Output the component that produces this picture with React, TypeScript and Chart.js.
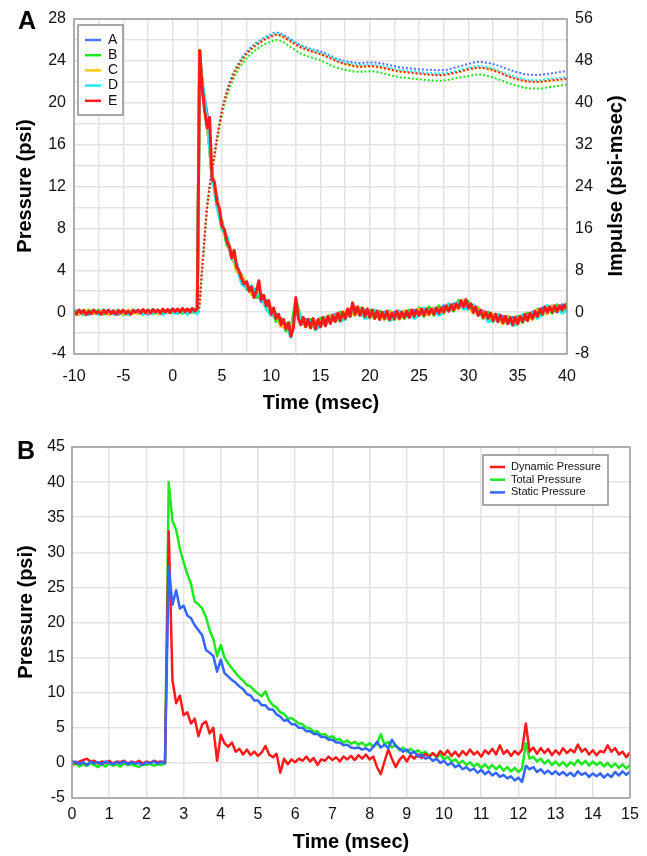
import React, { useEffect, useRef } from 'react';
import { Chart, registerables } from 'chart.js';
Chart.register(...registerables);

const FONT = "'Liberation Sans', Arial, Helvetica, sans-serif";

// ---------------- Chart A data ----------------
// Fine time grid for trace E: start and step (msec)
const tStartA = -10;
const tStepA = 0.25;

// Pressure (psi), trace E, sampled every 0.25 msec from -10 to 40
const pressureE = [
  0.1, -0.2, 0.2, -0.1, 0.15, -0.25, 0.1, -0.15, 0.2, -0.1,
  0.05, -0.2, 0.15, -0.1, 0.2, -0.15, 0.1, -0.2, 0.15, -0.05,
  0.2, -0.15, 0.1, -0.2, 0.15, 0.0, 0.2, -0.1, 0.25, -0.05,
  0.2, -0.1, 0.25, 0.0, 0.2, -0.1, 0.3, 0.0, 0.25, -0.05,
  0.3, 0.05, 0.3, 0.0, 0.35, 0.05, 0.3, 0.0, 0.35, 0.1,
  0.3, 25.0, 21.5, 19.2, 17.6, 18.6, 12.8, 12.4, 10.5, 9.9,
  8.2, 7.9, 6.8, 6.3, 5.2, 5.9, 4.3, 3.9, 3.2, 2.7,
  2.9, 2.0, 2.4, 1.4, 2.0, 3.0, 1.2, 1.6, 0.6, 1.1,
  -0.2, 0.4, -0.6, -0.2, -1.2, -0.7, -1.6, -1.0, -2.3, -1.5,
  1.4, -0.6, -1.2, -0.5, -1.4, -0.7, -1.5, -0.6, -1.6, -0.7,
  -1.4, -0.5, -1.3, -0.4, -1.1, -0.3, -0.9, -0.1, -0.8, 0.0,
  -0.6, 0.3, -0.4, 0.9, -0.2, 0.5, -0.3, 0.4, -0.4, 0.3,
  -0.5, 0.2, -0.6, 0.1, -0.7, 0.0, -0.6, 0.1, -0.7, -0.1,
  -0.6, 0.1, -0.6, 0.0, -0.5, 0.1, -0.5, 0.2, -0.4, 0.2,
  -0.3, 0.3, -0.3, 0.3, -0.2, 0.3, -0.2, 0.4, -0.1, 0.4,
  0.0, 0.6, 0.1, 0.7, 0.2, 0.8, 0.4, 1.1, 0.5, 1.2,
  0.4, 0.8, 0.0, 0.5, -0.3, 0.2, -0.5, 0.0, -0.6, -0.1,
  -0.8, -0.2, -0.9, -0.3, -1.0, -0.4, -1.1, -0.5, -1.2, -0.5,
  -1.1, -0.4, -0.9, -0.2, -0.8, -0.1, -0.6, 0.1, -0.4, 0.3,
  -0.2, 0.5, 0.0, 0.5, 0.0, 0.6, 0.1, 0.6, 0.2, 0.7,
  0.3,
];

// Traces A-D: every 0.5 msec from -10 to 40, plus the shock sample at 2.75
const pressureA = [
  0.2, -0.1, 0.15, -0.2, 0.1, -0.15, 0.2, -0.1, 0.15, -0.2,
  0.05, -0.1, 0.2, -0.15, 0.1, -0.2, 0.25, -0.1, 0.15, -0.05,
  0.3, 0.0, 0.25, -0.05, 0.3, 0.1,
  24.6, 21.9, 18.9, 12.7, 11.0, 8.0, 7.2, 5.1, 4.6, 2.9,
  2.9, 1.8, 2.2, 1.0, 1.1, -0.3, -0.2, -1.3, -1.1, -2.2,
  0.5, -1.2, -0.7, -1.4, -0.9, -1.3, -0.6, -1.0, -0.2, -0.7,
  0.0, -0.4, 0.4, -0.3, 0.2, -0.5, 0.1, -0.6, 0.0, -0.6,
  0.0, -0.6, 0.1, -0.5, 0.2, -0.3, 0.3, -0.2, 0.4, -0.1,
  0.6, 0.1, 0.8, 0.4, 1.1, 0.3, 0.6, -0.3, 0.1, -0.7,
  -0.2, -0.9, -0.4, -1.1, -0.5, -1.1, -0.3, -0.8, 0.0, -0.4,
  0.4, -0.1, 0.6, 0.0, 0.7, 0.2,
];
const pressureB = [
  -0.2, 0.1, -0.25, 0.15, -0.1, 0.2, -0.2, 0.05, -0.15, 0.2,
  -0.25, 0.1, -0.1, 0.15, -0.2, 0.1, -0.15, 0.2, -0.1, 0.2,
  -0.05, 0.25, -0.1, 0.3, 0.0, 0.25,
  25.0, 21.1, 18.0, 13.4, 10.2, 8.7, 6.4, 5.8, 3.9, 3.6,
  2.2, 2.5, 1.4, 1.7, 0.4, 0.4, -0.9, -0.6, -1.8, -1.5,
  1.1, -0.5, -1.4, -0.7, -1.6, -0.6, -1.3, -0.3, -0.9, 0.0,
  -0.7, 0.3, -0.3, 0.4, -0.5, 0.2, -0.6, 0.1, -0.7, 0.1,
  -0.7, 0.1, -0.6, 0.2, -0.5, 0.4, -0.4, 0.5, -0.3, 0.6,
  -0.1, 0.8, 0.1, 1.1, 0.4, 1.0, -0.1, 0.4, -0.6, 0.0,
  -0.9, -0.2, -1.1, -0.4, -1.2, -0.4, -1.0, -0.1, -0.7, 0.3,
  -0.3, 0.6, -0.1, 0.7, 0.0, 0.9,
];
const pressureC = [
  0.1, -0.25, 0.05, 0.2, -0.15, 0.0, 0.15, -0.25, 0.1, 0.05,
  -0.2, 0.2, 0.0, -0.15, 0.2, -0.05, 0.1, -0.2, 0.25, 0.0,
  0.15, -0.1, 0.3, 0.05, 0.2, 0.0,
  24.9, 21.6, 18.0, 13.3, 10.7, 7.9, 7.1, 5.5, 3.9, 3.5,
  2.7, 1.7, 2.1, 1.4, 0.4, 0.3, -0.4, -1.4, -1.1, -1.8,
  0.4, -0.6, -0.9, -1.5, -0.9, -0.9, -1.3, -0.4, -0.4, -0.8,
  0.0, -0.1, -0.3, 0.3, 0.0, -0.6, 0.1, -0.3, -0.7, 0.0,
  -0.3, -0.7, 0.1, -0.2, -0.5, 0.3, 0.0, -0.3, 0.4, 0.2,
  -0.1, 0.7, 0.5, 0.3, 1.1, 0.6, -0.1, 0.3, -0.2, -0.8,
  -0.2, -0.6, -1.1, -0.5, -0.8, -1.2, -0.3, -0.5, -0.7, 0.2,
  0.1, -0.2, 0.6, 0.3, 0.0, 0.8,
];
const pressureD = [
  -0.1, 0.2, -0.2, 0.0, 0.2, -0.25, 0.05, 0.15, -0.2, 0.1,
  0.0, -0.25, 0.15, 0.05, -0.2, 0.2, -0.1, 0.05, -0.25, 0.15,
  0.0, -0.15, 0.1, -0.2, 0.15, -0.15,
  24.5, 21.9, 18.4, 13.2, 10.1, 8.0, 7.2, 5.4, 4.5, 2.7,
  2.3, 2.5, 1.8, 1.5, 0.3, -0.3, -0.1, -1.0, -1.2, -2.4,
  0.5, -0.5, -1.0, -0.9, -1.7, -1.3, -0.5, -0.7, -0.3, -0.9,
  -0.6, 0.3, 0.1, 0.2, -0.6, -0.5, 0.2, -0.3, -0.1, -0.8,
  -0.6, 0.1, -0.2, 0.0, -0.6, -0.3, 0.4, 0.1, 0.3, -0.3,
  0.0, 0.8, 0.5, 0.9, 0.3, 0.3, 0.7, 0.0, 0.0, -0.9,
  -0.8, -0.2, -0.7, -0.6, -1.3, -1.1, -0.2, -0.5, -0.1, -0.6,
  -0.2, 0.6, 0.3, 0.5, -0.1, 0.2,
];

// Impulse (psi-msec)
const impulseTime = [-10, 2.6, 3, 3.5, 4, 4.5, 5, 5.5, 6, 7, 8, 9, 10, 10.5, 11, 12, 13, 14, 15, 16, 17, 18, 19, 20, 21, 22, 23, 24, 25, 26, 27, 28, 29, 30, 31, 32, 33, 34, 35, 36, 37, 38, 39, 40];
const impulseA = [0, 0, 8.4, 20.2, 27.3, 33.3, 38.6, 42.3, 45.0, 48.5, 50.7, 52.1, 53.1, 53.4, 53.2, 52.1, 51.0, 50.3, 49.8, 49.0, 48.2, 47.8, 47.6, 47.7, 47.6, 47.2, 46.8, 46.6, 46.4, 46.3, 46.2, 46.4, 46.9, 47.4, 47.8, 47.6, 47.1, 46.4, 45.8, 45.4, 45.3, 45.5, 45.8, 46.1];
const impulseB = [0, 0, 8.2, 19.6, 26.6, 32.5, 37.6, 41.2, 43.8, 47.3, 49.4, 50.8, 51.7, 52.0, 51.8, 50.6, 49.4, 48.7, 48.1, 47.2, 46.5, 46.1, 45.9, 46.0, 45.8, 45.3, 44.9, 44.7, 44.5, 44.3, 44.2, 44.4, 44.8, 45.1, 45.4, 45.1, 44.5, 43.8, 43.2, 42.8, 42.7, 42.9, 43.2, 43.5];
const impulseC = [0, 0, 8.3, 19.9, 26.9, 32.9, 38.2, 41.9, 44.5, 48.0, 50.2, 51.6, 52.6, 52.9, 52.7, 51.6, 50.5, 49.8, 49.2, 48.4, 47.6, 47.1, 46.8, 46.9, 46.7, 46.3, 45.9, 45.7, 45.5, 45.3, 45.2, 45.4, 45.8, 46.3, 46.6, 46.4, 45.8, 45.0, 44.4, 44.0, 43.9, 44.1, 44.3, 44.5];
const impulseD = [0, 0, 8.3, 20.1, 27.1, 33.1, 38.4, 42.1, 44.8, 48.3, 50.5, 52.0, 53.0, 53.3, 53.1, 52.0, 50.9, 50.2, 49.6, 48.8, 48.0, 47.5, 47.2, 47.3, 47.1, 46.7, 46.3, 46.1, 45.9, 45.7, 45.6, 45.8, 46.2, 46.7, 47.0, 46.8, 46.2, 45.4, 44.8, 44.4, 44.3, 44.5, 44.7, 44.9];
const impulseE = [0, 0, 8.3, 20.0, 27.0, 33.0, 38.3, 42.0, 44.6, 48.1, 50.3, 51.7, 52.7, 53.0, 52.8, 51.7, 50.6, 49.9, 49.3, 48.5, 47.7, 47.2, 46.9, 47.0, 46.8, 46.4, 46.0, 45.8, 45.6, 45.4, 45.3, 45.5, 45.9, 46.4, 46.7, 46.5, 45.9, 45.1, 44.5, 44.1, 44.0, 44.2, 44.4, 44.6];

const seriesNamesA = ['A', 'B', 'C', 'D', 'E'];

// ---------------- Chart B data ----------------
const tStartB = 0;
const tStepB = 0.1;
const dynamicPressure = [
  0.3, -0.1, 0.2, 0.4, 0.6, 0.2, 0.3, -0.1, 0.2, 0.0,
  0.3, -0.1, 0.2, 0.1, 0.3, -0.1, 0.2, 0.0, 0.3, -0.1,
  0.2, 0.0, 0.3, 0.1, 0.2, 0.0,
  33.0, 11.8, 8.5, 9.6, 6.8, 7.2, 5.6, 6.3, 3.8, 5.5,
  5.9, 4.2, 5.0, 0.3, 4.0, 2.8, 2.3, 2.9, 1.6, 2.0,
  1.2, 1.9, 1.1, 1.6, 1.0, 1.5, 2.4, 1.2, 0.8, 1.3,
  -1.4, 0.6, -0.2, 0.5, 0.1, 0.6, 0.3, 0.9, 0.2, 0.7,
  -0.3, 0.5, 0.3, 0.9, 0.4, 0.8, 0.2, 0.9, 0.5, 1.0,
  0.4, 1.1, 0.6, 1.2, 0.5, 0.9, -0.6, -1.6, 0.2, 1.9,
  0.6, -0.6, 0.4, 1.0, 0.2, 1.1, 0.6, 1.2, 0.7, 1.3,
  0.8, 1.4, 0.9, 1.7, 1.1, 1.8, 1.0, 1.6, 0.9, 1.7,
  1.1, 1.9, 1.2, 1.6, 0.9, 1.8, 1.3, 2.0, 1.2, 2.5,
  1.3, 1.8, 1.0, 1.7, 1.2, 1.9, 5.6, 1.6, 2.2, 1.3,
  2.1, 1.4, 2.0, 1.1, 1.8, 1.2, 2.1, 1.4, 1.9, 1.5,
  2.6, 1.6, 2.0, 1.2, 1.8, 1.1, 1.7, 1.5, 2.5, 1.6,
  2.1, 1.2, 1.6, 0.8, 1.5,
];
const totalPressure = [
  -0.4, -0.1, -0.5, -0.2, -0.4, -0.1, -0.3, -0.6, -0.2, -0.5,
  -0.1, -0.4, -0.2, -0.5, -0.1, -0.3, -0.2, -0.4, -0.6, -0.2,
  -0.3, -0.1, -0.4, -0.2, -0.3, -0.1,
  40.0, 34.5, 33.2, 30.5, 28.6, 26.9, 25.5, 23.0, 22.6, 22.0,
  20.8, 18.9, 17.6, 15.2, 16.8, 15.0, 14.2, 13.5, 12.8, 12.2,
  11.7, 11.1, 10.9, 10.3, 9.9, 9.5, 10.2, 8.9, 8.2, 7.9,
  7.2, 7.0, 6.3, 6.4, 6.0, 5.6, 5.5, 5.0, 4.9, 4.4,
  4.5, 4.0, 4.1, 3.6, 3.8, 3.3, 3.4, 2.9, 3.2, 2.7,
  3.0, 2.6, 2.9, 2.4, 2.8, 2.3, 2.7, 4.1, 2.6, 3.0,
  2.2, 2.6, 1.8, 2.2, 1.6, 2.0, 1.5, 1.8, 1.3, 1.6,
  1.0, 1.4, 0.8, 1.2, 0.5, 0.9, 0.2, 0.5, -0.1, 0.3,
  -0.3, 0.1, -0.5, -0.1, -0.7, -0.2, -0.8, -0.3, -0.9, -0.4,
  -1.1, -0.6, -1.2, -0.7, -1.3, -0.8, 2.8, 0.6, 0.9, 0.2,
  0.6, -0.1, 0.4, -0.3, 0.2, -0.4, 0.1, -0.5, 0.1, -0.3,
  0.4, -0.2, 0.3, -0.4, 0.2, -0.3, 0.1, -0.5, 0.0, -0.6,
  -0.1, -0.7, -0.2, -0.8, -0.3,
];
const staticPressure = [
  -0.1, 0.2, -0.2, 0.1, -0.3, 0.2, -0.1, 0.1, -0.2, 0.2,
  0.0, -0.2, 0.1, -0.1, 0.2, -0.2, 0.1, -0.1, 0.0, -0.3,
  0.1, -0.1, 0.2, -0.1, 0.1, 0.0,
  28.0, 22.5, 24.6, 22.0, 22.4, 21.0, 20.6, 19.6, 18.9, 18.2,
  16.1, 15.7, 15.2, 13.0, 14.7, 12.8, 12.3, 11.8, 11.4, 10.9,
  10.5, 9.8, 9.6, 8.9, 8.9, 8.2, 8.2, 7.6, 7.6, 6.9,
  6.6, 6.0, 6.1, 5.5, 5.5, 5.0, 5.0, 4.5, 4.5, 4.1,
  4.1, 3.7, 3.7, 3.3, 3.3, 2.9, 2.9, 2.5, 2.6, 2.2,
  2.1, 2.2, 1.9, 2.1, 1.7, 2.3, 3.0, 2.2, 2.6, 2.1,
  3.3, 2.4, 2.0, 1.6, 1.9, 1.3, 1.6, 0.9, 1.2, 0.6,
  0.8, 0.3, 0.6, 0.0, 0.3, -0.3, 0.0, -0.6, -0.3, -0.9,
  -0.6, -1.1, -0.8, -1.4, -1.0, -1.6, -1.2, -1.8, -1.4, -2.0,
  -1.7, -2.2, -1.9, -2.5, -2.1, -2.7, -0.4, -0.9, -0.6, -1.3,
  -0.9, -1.5, -1.1, -1.6, -1.2, -1.7, -1.3, -1.8, -1.4, -1.9,
  -1.2, -1.7, -1.4, -2.0, -1.5, -1.9, -1.5, -2.1, -1.6, -2.0,
  -1.3, -1.8, -1.2, -1.7, -1.2,
];
const seriesNamesB = ['Dynamic Pressure', 'Total Pressure', 'Static Pressure'];

// ---------------- styling ----------------
const C_BLUE = '#4d74ff';
const C_GREEN = '#1ee61e';
const C_YELLOW = '#ffc61a';
const C_CYAN = '#19f0f0';
const C_RED = '#ff1a1a';
const B_RED = '#ff1a1a';
const B_GREEN = '#1ee81e';
const B_BLUE = '#3366ff';
const GRID = '#e3e3e3';

const xy = (xs: number[], ys: number[]) => ys.map((y, i) => ({ x: xs[i], y }));

type Deco = {
  letter: string; letterX: number; letterY: number;
  titles: { text: string; x: number; y: number; rotate: boolean }[];
  legend: { x: number; y: number; w: number; h: number; lineX1: number; lineX2: number; textX: number; rowY: number; rowDy: number; font: number; items: { label: string; color: string }[] };
};

function decoPlugin(d: Deco) {
  return {
    id: 'deco',
    afterDraw(chart: any) {
      const ctx = chart.ctx as CanvasRenderingContext2D;
      const a = chart.chartArea;
      ctx.save();
      ctx.strokeStyle = '#9c9c9c';
      ctx.lineWidth = 1.5;
      ctx.strokeRect(a.left, a.top, a.right - a.left, a.bottom - a.top);
      const L = d.legend;
      ctx.fillStyle = '#ffffff';
      ctx.fillRect(L.x, L.y, L.w, L.h);
      ctx.strokeStyle = '#8c8c8c';
      ctx.lineWidth = 1.5;
      ctx.strokeRect(L.x, L.y, L.w, L.h);
      ctx.font = `${L.font}px ${FONT}`;
      ctx.textBaseline = 'middle';
      ctx.textAlign = 'left';
      L.items.forEach((it, i) => {
        const y = L.rowY + i * L.rowDy;
        ctx.strokeStyle = it.color;
        ctx.lineWidth = 2.5;
        ctx.beginPath();
        ctx.moveTo(L.lineX1, y);
        ctx.lineTo(L.lineX2, y);
        ctx.stroke();
        ctx.fillStyle = '#111';
        ctx.fillText(it.label, L.textX, y);
      });
      ctx.fillStyle = '#000';
      ctx.font = `bold 25px ${FONT}`;
      ctx.textBaseline = 'alphabetic';
      ctx.fillText(d.letter, d.letterX, d.letterY);
      ctx.font = `bold 20px ${FONT}`;
      ctx.textAlign = 'center';
      ctx.textBaseline = 'middle';
      d.titles.forEach((t) => {
        ctx.save();
        ctx.translate(t.x, t.y);
        if (t.rotate) ctx.rotate(-Math.PI / 2);
        ctx.fillText(t.text, 0, 0);
        ctx.restore();
      });
      ctx.restore();
    },
  };
}

const tickFont = { family: FONT, size: 16 };

function configA(): any {
  const tFine = pressureE.map((_, i) => tStartA + i * tStepA);
  const tCoarse = tFine.filter((_, i) => i % 2 === 0 || i === 51);
  const pLine = (label: string, ys: number[], xs: number[], color: string, order: number) => ({
    label, data: xy(xs, ys), borderColor: color, borderWidth: 3, pointRadius: 0,
    borderJoinStyle: 'round', yAxisID: 'y', order,
  });
  const iLine = (label: string, ys: number[], color: string, order: number) => ({
    label, data: xy(impulseTime, ys), borderColor: color, borderWidth: 2, pointRadius: 0,
    borderDash: [2, 2], cubicInterpolationMode: 'monotone', yAxisID: 'y2', order,
  });
  return {
    type: 'line',
    data: {
      datasets: [
        pLine(seriesNamesA[4], pressureE, tFine, C_RED, 0),
        pLine(seriesNamesA[3], pressureD, tCoarse, C_CYAN, 1),
        pLine(seriesNamesA[2], pressureC, tCoarse, C_YELLOW, 2),
        pLine(seriesNamesA[1], pressureB, tCoarse, C_GREEN, 3),
        pLine(seriesNamesA[0], pressureA, tCoarse, C_BLUE, 4),
        iLine('E impulse', impulseE, C_RED, 5),
        iLine('C impulse', impulseC, C_YELLOW, 6),
        iLine('D impulse', impulseD, C_CYAN, 7),
        iLine('A impulse', impulseA, C_BLUE, 8),
        iLine('B impulse', impulseB, C_GREEN, 9),
      ],
    },
    options: {
      responsive: false,
      animation: false,
      events: [],
      devicePixelRatio: 1,
      layout: { padding: { top: 19, left: 0, right: 0, bottom: 0 } },
      plugins: { legend: { display: false }, tooltip: { enabled: false } },
      scales: {
        x: {
          type: 'linear', min: -10, max: 40,
          afterFit: (s: any) => { s.height = 66; },
          ticks: {
            stepSize: 2.5, autoSkip: false, maxRotation: 0, padding: 13, color: '#111', font: tickFont,
            callback: (v: number) => (Math.abs(v % 5) < 1e-9 ? String(v) : ''),
          },
          grid: { color: GRID, lineWidth: 1.5, drawTicks: false },
          border: { display: false },
        },
        y: {
          position: 'left', min: -4, max: 28,
          afterFit: (s: any) => { s.width = 74; },
          ticks: {
            stepSize: 2, autoSkip: false, padding: 8, color: '#111', font: tickFont,
            callback: (v: number) => (Math.abs(v % 4) < 1e-9 ? String(v) : ''),
          },
          grid: { color: GRID, lineWidth: 1.5, drawTicks: false },
          border: { display: false },
        },
        y2: {
          position: 'right', min: -8, max: 56,
          afterFit: (s: any) => { s.width = 80; },
          ticks: { stepSize: 8, autoSkip: false, padding: 8, color: '#111', font: tickFont, callback: (v: number) => String(v) },
          grid: { display: false, drawTicks: false },
          border: { display: false },
        },
      },
    },
    plugins: [
      decoPlugin({
        letter: 'A', letterX: 18, letterY: 29,
        titles: [
          { text: 'Pressure (psi)', x: 25, y: 186, rotate: true },
          { text: 'Impulse (psi-msec)', x: 616, y: 186, rotate: true },
          { text: 'Time (msec)', x: 321, y: 403, rotate: false },
        ],
        legend: {
          x: 78, y: 25, w: 45, h: 90, lineX1: 85, lineX2: 101, textX: 108, rowY: 40, rowDy: 15.2, font: 14,
          items: [
            { label: seriesNamesA[0], color: C_BLUE },
            { label: seriesNamesA[1], color: C_GREEN },
            { label: seriesNamesA[2], color: C_YELLOW },
            { label: seriesNamesA[3], color: C_CYAN },
            { label: seriesNamesA[4], color: C_RED },
          ],
        },
      }),
    ],
  };
}

function configB(): any {
  const t = dynamicPressure.map((_, i) => tStartB + i * tStepB);
  const line = (label: string, ys: number[], color: string, order: number) => ({
    label, data: xy(t, ys), borderColor: color, borderWidth: 2.5, pointRadius: 0,
    borderJoinStyle: 'round', order,
  });
  return {
    type: 'line',
    data: {
      datasets: [
        line(seriesNamesB[2], staticPressure, B_BLUE, 0),
        line(seriesNamesB[0], dynamicPressure, B_RED, 1),
        line(seriesNamesB[1], totalPressure, B_GREEN, 2),
      ],
    },
    options: {
      responsive: false,
      animation: false,
      events: [],
      devicePixelRatio: 1,
      layout: { padding: { top: 27, left: 0, right: 17, bottom: 0 } },
      plugins: { legend: { display: false }, tooltip: { enabled: false } },
      scales: {
        x: {
          type: 'linear', min: 0, max: 15,
          afterFit: (s: any) => { s.height = 58; },
          ticks: { stepSize: 1, autoSkip: false, maxRotation: 0, padding: 7, color: '#111', font: tickFont, callback: (v: number) => String(v) },
          grid: { color: GRID, lineWidth: 1.5, drawTicks: false },
          border: { display: false },
        },
        y: {
          position: 'left', min: -5, max: 45,
          afterFit: (s: any) => { s.width = 72; },
          ticks: { stepSize: 5, autoSkip: false, padding: 7, color: '#111', font: tickFont, callback: (v: number) => String(v) },
          grid: { color: GRID, lineWidth: 1.5, drawTicks: false },
          border: { display: false },
        },
      },
    },
    plugins: [
      decoPlugin({
        letter: 'B', letterX: 17, letterY: 39,
        titles: [
          { text: 'Pressure (psi)', x: 26, y: 192, rotate: true },
          { text: 'Time (msec)', x: 351, y: 422, rotate: false },
        ],
        legend: {
          x: 483, y: 35, w: 125, h: 50, lineX1: 490, lineX2: 505, textX: 511, rowY: 47, rowDy: 12.7, font: 11,
          items: [
            { label: seriesNamesB[0], color: B_RED },
            { label: seriesNamesB[1], color: B_GREEN },
            { label: seriesNamesB[2], color: B_BLUE },
          ],
        },
      }),
    ],
  };
}

export default function App() {
  const refA = useRef<HTMLCanvasElement>(null);
  const refB = useRef<HTMLCanvasElement>(null);
  useEffect(() => {
    const a = new Chart(refA.current as HTMLCanvasElement, configA());
    const b = new Chart(refB.current as HTMLCanvasElement, configB());
    return () => { a.destroy(); b.destroy(); };
  }, []);
  return (
    <div style={{ position: 'absolute', left: 0, top: 0, width: 647, height: 856, background: '#fff' }}>
      <canvas ref={refA} width={647} height={420} style={{ position: 'absolute', left: 0, top: 0, width: 647, height: 420 }} />
      <canvas ref={refB} width={647} height={436} style={{ position: 'absolute', left: 0, top: 420, width: 647, height: 436 }} />
    </div>
  );
}
